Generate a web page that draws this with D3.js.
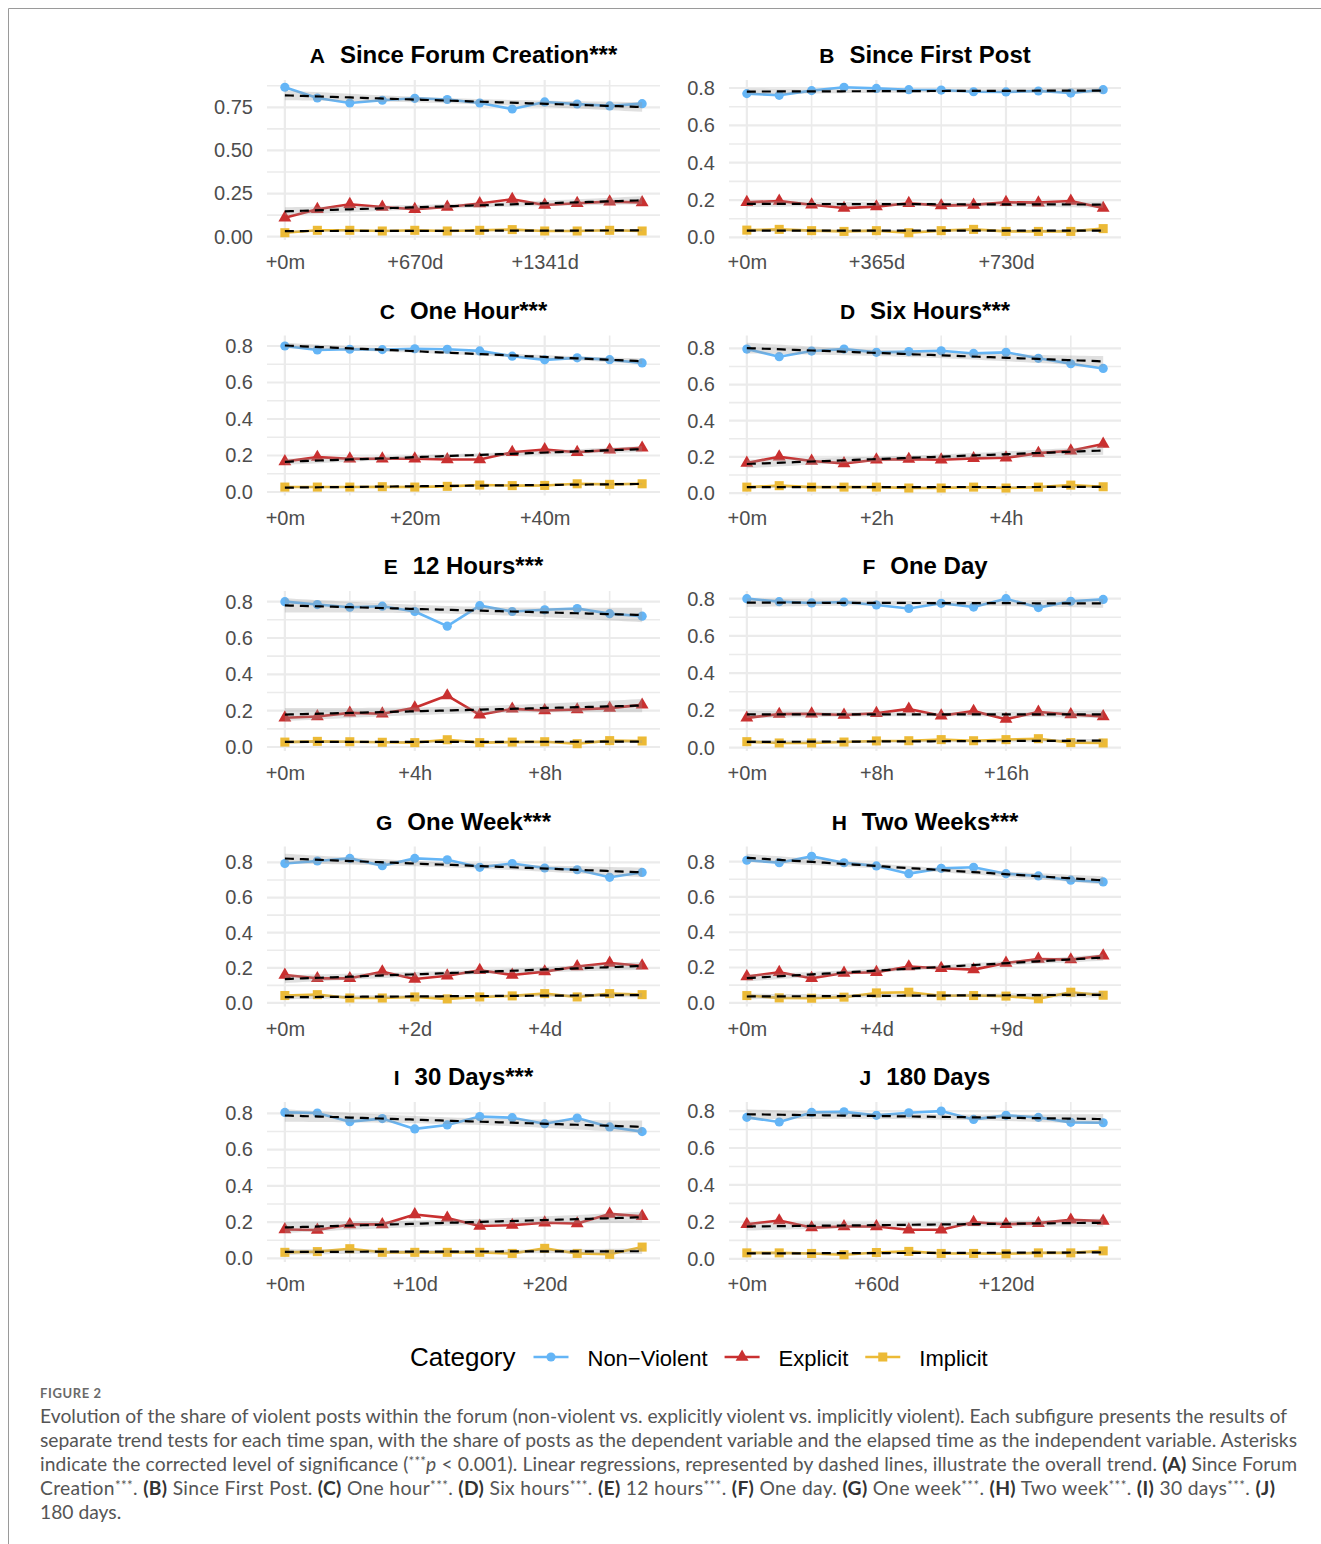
<!DOCTYPE html>
<html>
<head>
<meta charset="utf-8">
<script src="https://cdn.jsdelivr.net/npm/d3@7"></script>
<style>
  body { margin: 0; background: #fff; }
  svg { display: block; }
</style>
</head>
<body>
<svg id="fig" width="1321" height="1544"></svg>
<script>
// ---- data ---------------------------------------------------------------
const panelLetters = ["A", "B", "C", "D", "E", "F", "G", "H", "I", "J"];
const panelTitles = ["Since Forum Creation***", "Since First Post", "One Hour***", "Six Hours***",
  "12 Hours***", "One Day", "One Week***", "Two Weeks***", "30 Days***", "180 Days"];
const xTickLabels = [
  ["+0m", "+670d", "+1341d"], ["+0m", "+365d", "+730d"],
  ["+0m", "+20m", "+40m"], ["+0m", "+2h", "+4h"],
  ["+0m", "+4h", "+8h"], ["+0m", "+8h", "+16h"],
  ["+0m", "+2d", "+4d"], ["+0m", "+4d", "+9d"],
  ["+0m", "+10d", "+20d"], ["+0m", "+60d", "+120d"]
];
const yTickValues = [
  [0, 0.25, 0.5, 0.75],
  [0, 0.2, 0.4, 0.6, 0.8], [0, 0.2, 0.4, 0.6, 0.8], [0, 0.2, 0.4, 0.6, 0.8],
  [0, 0.2, 0.4, 0.6, 0.8], [0, 0.2, 0.4, 0.6, 0.8], [0, 0.2, 0.4, 0.6, 0.8],
  [0, 0.2, 0.4, 0.6, 0.8], [0, 0.2, 0.4, 0.6, 0.8], [0, 0.2, 0.4, 0.6, 0.8]
];
const categories = ["Non\u2212Violent", "Explicit", "Implicit"];

// share of posts per time step (12 steps per panel)
const nonViolent = [
  [0.866, 0.804, 0.775, 0.791, 0.802, 0.795, 0.775, 0.740, 0.781, 0.769, 0.758, 0.771],
  [0.770, 0.761, 0.786, 0.804, 0.798, 0.791, 0.789, 0.780, 0.779, 0.784, 0.773, 0.791],
  [0.800, 0.778, 0.782, 0.780, 0.785, 0.782, 0.773, 0.744, 0.724, 0.735, 0.725, 0.707],
  [0.796, 0.754, 0.785, 0.796, 0.778, 0.782, 0.787, 0.772, 0.778, 0.745, 0.715, 0.689],
  [0.800, 0.784, 0.769, 0.775, 0.746, 0.665, 0.778, 0.746, 0.755, 0.762, 0.734, 0.720],
  [0.800, 0.784, 0.777, 0.782, 0.766, 0.747, 0.775, 0.755, 0.800, 0.752, 0.786, 0.796],
  [0.794, 0.808, 0.823, 0.781, 0.823, 0.815, 0.772, 0.794, 0.768, 0.758, 0.715, 0.743],
  [0.808, 0.794, 0.830, 0.794, 0.776, 0.732, 0.762, 0.768, 0.732, 0.719, 0.695, 0.685],
  [0.805, 0.802, 0.754, 0.771, 0.714, 0.736, 0.782, 0.776, 0.743, 0.774, 0.725, 0.699],
  [0.766, 0.741, 0.793, 0.796, 0.777, 0.791, 0.800, 0.755, 0.777, 0.766, 0.739, 0.737]
];
const explicit = [
  [0.110, 0.159, 0.188, 0.172, 0.159, 0.172, 0.192, 0.217, 0.184, 0.194, 0.203, 0.198],
  [0.188, 0.195, 0.175, 0.157, 0.165, 0.183, 0.170, 0.174, 0.188, 0.186, 0.195, 0.157],
  [0.167, 0.191, 0.182, 0.182, 0.182, 0.178, 0.178, 0.218, 0.233, 0.218, 0.231, 0.242],
  [0.166, 0.201, 0.177, 0.164, 0.184, 0.188, 0.184, 0.192, 0.195, 0.221, 0.234, 0.271],
  [0.161, 0.168, 0.188, 0.183, 0.216, 0.283, 0.177, 0.210, 0.201, 0.206, 0.214, 0.232],
  [0.160, 0.180, 0.182, 0.175, 0.185, 0.208, 0.171, 0.196, 0.153, 0.191, 0.178, 0.167],
  [0.159, 0.140, 0.140, 0.178, 0.136, 0.155, 0.186, 0.159, 0.178, 0.207, 0.227, 0.212],
  [0.149, 0.173, 0.139, 0.169, 0.173, 0.205, 0.196, 0.188, 0.226, 0.248, 0.245, 0.267],
  [0.159, 0.156, 0.187, 0.187, 0.242, 0.223, 0.178, 0.183, 0.196, 0.192, 0.245, 0.232],
  [0.187, 0.207, 0.169, 0.175, 0.175, 0.157, 0.157, 0.198, 0.187, 0.193, 0.211, 0.205]
];
const implicit = [
  [0.023, 0.037, 0.037, 0.033, 0.037, 0.033, 0.037, 0.041, 0.033, 0.033, 0.037, 0.033],
  [0.039, 0.043, 0.036, 0.032, 0.036, 0.025, 0.036, 0.043, 0.032, 0.032, 0.032, 0.047],
  [0.027, 0.027, 0.027, 0.029, 0.027, 0.031, 0.038, 0.035, 0.036, 0.045, 0.042, 0.045],
  [0.033, 0.041, 0.033, 0.033, 0.033, 0.028, 0.028, 0.033, 0.028, 0.033, 0.044, 0.035],
  [0.027, 0.031, 0.029, 0.026, 0.024, 0.040, 0.024, 0.027, 0.029, 0.018, 0.035, 0.033],
  [0.032, 0.025, 0.025, 0.030, 0.036, 0.037, 0.043, 0.037, 0.043, 0.048, 0.027, 0.025],
  [0.042, 0.047, 0.028, 0.028, 0.034, 0.023, 0.034, 0.040, 0.053, 0.034, 0.053, 0.047],
  [0.041, 0.028, 0.026, 0.032, 0.056, 0.060, 0.040, 0.041, 0.038, 0.023, 0.060, 0.043],
  [0.033, 0.037, 0.053, 0.033, 0.033, 0.033, 0.033, 0.027, 0.055, 0.027, 0.022, 0.062],
  [0.032, 0.032, 0.029, 0.022, 0.034, 0.040, 0.029, 0.029, 0.027, 0.032, 0.032, 0.043]
];
const seriesByCategory = [nonViolent, explicit, implicit];

const captionHead = "FIGURE 2";
const captionLines = [
  "Evolution of the share of violent posts within the forum (non-violent vs. explicitly violent vs. implicitly violent). Each subfigure presents the results of",
  "separate trend tests for each time span, with the share of posts as the dependent variable and the elapsed time as the independent variable. Asterisks",
  "indicate the corrected level of significance ([s]***[/s][i]p[/i] < 0.001). Linear regressions, represented by dashed lines, illustrate the overall trend. [b](A)[/b] Since Forum",
  "Creation[s]***[/s]. [b](B)[/b] Since First Post. [b](C)[/b] One hour[s]***[/s]. [b](D)[/b] Six hours[s]***[/s]. [b](E)[/b] 12 hours[s]***[/s]. [b](F)[/b] One day. [b](G)[/b] One week[s]***[/s]. [b](H)[/b] Two week[s]***[/s]. [b](I)[/b] 30 days[s]***[/s]. [b](J)[/b]",
  "180 days."
];
// right edge of each justified caption line (last line runs ragged)
const captionLineEnds = [1287, 1297, 1297, 1275, null];

// ---- styling / layout ---------------------------------------------------
const FONT = "'Liberation Sans', Arial, Helvetica, sans-serif";
const colors = ["#64B5F6", "#C93030", "#ECBA36"];
const symbols = [d3.symbolCircle, d3.symbolTriangle, d3.symbolSquare];
const symbolSizes = [66, 72, 82];
const colRange = [[267, 660], [729, 1121]];
const rowTop0 = 80, rowStep = 255.5, panelH = 160;
const gridColor = "#EBEBEB";

const svg = d3.select("#fig");

// outer frame (top and left rule)
svg.append("line").attr("x1", 8.5).attr("x2", 1321).attr("y1", 8.5).attr("y2", 8.5)
  .attr("stroke", "#9a9a9a").attr("stroke-width", 1);
svg.append("line").attr("x1", 8.5).attr("x2", 8.5).attr("y1", 8.5).attr("y2", 1544)
  .attr("stroke", "#9a9a9a").attr("stroke-width", 1);

// ordinary least squares with a 95% confidence band
function linearFit(vals) {
  const n = vals.length;
  const xs = d3.range(n);
  const xbar = d3.mean(xs), ybar = d3.mean(vals);
  let sxx = 0, sxy = 0;
  xs.forEach((x, i) => { sxx += (x - xbar) ** 2; sxy += (x - xbar) * (vals[i] - ybar); });
  const b = sxy / sxx, a = ybar - b * xbar;
  let sse = 0;
  xs.forEach((x, i) => { sse += (vals[i] - (a + b * x)) ** 2; });
  const s = Math.sqrt(sse / (n - 2));
  const t = 2.228; // t(0.975, df = 10)
  const band = d3.range(0, n - 1 + 1e-9, (n - 1) / 60).map(x => {
    const fit = a + b * x;
    const se = s * Math.sqrt(1 / n + (x - xbar) ** 2 / sxx);
    return { x, fit, lo: fit - t * se, hi: fit + t * se };
  });
  return { a, b, band };
}

panelLetters.forEach((letter, p) => {
  const col = p % 2, row = Math.floor(p / 2);
  const [x0, x1] = colRange[col];
  const top = rowTop0 + rowStep * row, bottom = top + panelH;
  const g = svg.append("g");

  const series = seriesByCategory.map(arr => arr[p]);
  const n = series[0].length;
  const fits = series.map(linearFit);

  // x: step index with 5% padding
  const xPad = (n - 1) * 0.05;
  const x = d3.scaleLinear().domain([-xPad, n - 1 + xPad]).range([x0, x1]);

  // y: data + confidence band, with 5% padding
  const all = [];
  series.forEach(s => all.push(...s));
  fits.forEach(f => f.band.forEach(d => { all.push(d.lo, d.hi); }));
  const [ymin, ymax] = d3.extent(all);
  const yPad = (ymax - ymin) * 0.05;
  const y = d3.scaleLinear().domain([ymin - yPad, ymax + yPad]).range([bottom, top]);

  const yt = yTickValues[p];
  const step = yt[1] - yt[0];
  const yMinor = [];
  for (let v = yt[0] - step / 2; v <= y.domain()[1]; v += step) {
    if (v >= y.domain()[0]) yMinor.push(v);
  }
  const xMajor = d3.range(0, n, 4);
  const xMinor = d3.range(2, n, 4);

  // grid
  g.selectAll(".ymin").data(yMinor).join("line")
    .attr("x1", x0).attr("x2", x1).attr("y1", d => y(d)).attr("y2", d => y(d))
    .attr("stroke", gridColor).attr("stroke-width", 1.6);
  g.selectAll(".xmin").data(xMinor).join("line")
    .attr("x1", d => x(d)).attr("x2", d => x(d)).attr("y1", top).attr("y2", bottom)
    .attr("stroke", gridColor).attr("stroke-width", 1.6);
  g.selectAll(".ymaj").data(yt).join("line")
    .attr("x1", x0).attr("x2", x1).attr("y1", d => y(d)).attr("y2", d => y(d))
    .attr("stroke", gridColor).attr("stroke-width", 2.2);
  g.selectAll(".xmaj").data(xMajor).join("line")
    .attr("x1", d => x(d)).attr("x2", d => x(d)).attr("y1", top).attr("y2", bottom)
    .attr("stroke", gridColor).attr("stroke-width", 2.2);

  // axes (two decimals when the tick step needs them)
  const needs2 = Math.abs(step * 10 - Math.round(step * 10)) > 1e-9;
  const fmt = needs2 ? d3.format(".2f") : d3.format(".1f");
  const yAxis = g.append("g").attr("transform", `translate(${x0},0)`)
    .call(d3.axisLeft(y).tickValues(yt).tickSize(0).tickPadding(14).tickFormat(fmt));
  const xAxis = g.append("g").attr("transform", `translate(0,${bottom})`)
    .call(d3.axisBottom(x).tickValues(xMajor).tickSize(0).tickPadding(15)
      .tickFormat((d, i) => xTickLabels[p][i]));
  [yAxis, xAxis].forEach(ax => {
    ax.select(".domain").remove();
    ax.selectAll("text").attr("font-family", FONT).attr("font-size", 20).attr("fill", "#4D4D4D");
  });

  // category lines and markers
  series.forEach((vals, c) => {
    g.append("path").datum(vals)
      .attr("d", d3.line().x((d, i) => x(i)).y(d => y(d)))
      .attr("fill", "none").attr("stroke", colors[c]).attr("stroke-width", 2.6)
      .attr("stroke-linejoin", "round");
  });
  series.forEach((vals, c) => {
    g.selectAll(null).data(vals).join("path")
      .attr("transform", (d, i) => `translate(${x(i)},${y(d)})`)
      .attr("d", d3.symbol().type(symbols[c]).size(symbolSizes[c]))
      .attr("fill", colors[c]);
  });

  // regression bands and dashed trend lines
  fits.forEach(f => {
    g.append("path").datum(f.band)
      .attr("d", d3.area().x(d => x(d.x)).y0(d => y(d.lo)).y1(d => y(d.hi)))
      .attr("fill", "#999999").attr("fill-opacity", 0.3);
  });
  fits.forEach(f => {
    g.append("path").datum(f.band)
      .attr("d", d3.line().x(d => x(d.x)).y(d => y(d.fit)))
      .attr("fill", "none").attr("stroke", "#000").attr("stroke-width", 2.2)
      .attr("stroke-dasharray", "9,6");
  });

  // panel title with tag letter
  const title = g.append("text")
    .attr("x", (x0 + x1) / 2).attr("y", top - 17)
    .attr("text-anchor", "middle").attr("font-family", FONT).attr("font-weight", "bold")
    .attr("fill", "#000");
  title.append("tspan").attr("font-size", 21).text(letter);
  title.append("tspan").attr("font-size", 24).attr("dx", 15).text(panelTitles[p]);
});

// ---- legend -------------------------------------------------------------
const legend = svg.append("g").attr("font-family", FONT);
const legendBase = 1366;
const lt = legend.append("text").attr("x", 410).attr("y", legendBase)
  .attr("font-size", 26).attr("fill", "#000").text("Category");
let lx = 410 + lt.node().getComputedTextLength() + 18;
categories.forEach((cat, c) => {
  const cy = legendBase - 9;
  legend.append("line").attr("x1", lx).attr("x2", lx + 35).attr("y1", cy).attr("y2", cy)
    .attr("stroke", colors[c]).attr("stroke-width", 2.6);
  legend.append("path").attr("transform", `translate(${lx + 17.5},${cy})`)
    .attr("d", d3.symbol().type(symbols[c]).size(symbolSizes[c])).attr("fill", colors[c]);
  const t = legend.append("text").attr("x", lx + 35 + 19).attr("y", legendBase)
    .attr("font-size", 22).attr("fill", "#000").text(cat);
  lx = lx + 35 + 19 + t.node().getComputedTextLength() + 17;
});

// ---- caption ------------------------------------------------------------
const CAP_FONT = "Lato, 'Open Sans', 'Noto Sans', sans-serif";
svg.append("text").attr("x", 40).attr("y", 1398)
  .attr("font-family", CAP_FONT).attr("font-size", 13).attr("font-weight", "bold")
  .attr("letter-spacing", 0.6).attr("fill", "#6a6a6a").text(captionHead);

const cap = svg.append("g").attr("font-family", CAP_FONT).attr("fill", "#555555")
  .attr("font-size", 17);
const capTexts = captionLines.map((line, li) => {
  const t = cap.append("text").attr("x", 40).attr("y", 1423 + li * 24);
  const parts = line.split(/(\[\/?[bis]\])/);
  let bold = false, ital = false, sup = false, shifted = false;
  parts.forEach(part => {
    if (part === "[b]") { bold = true; return; }
    if (part === "[/b]") { bold = false; return; }
    if (part === "[i]") { ital = true; return; }
    if (part === "[/i]") { ital = false; return; }
    if (part === "[s]") { sup = true; return; }
    if (part === "[/s]") { sup = false; return; }
    if (!part) return;
    const ts = t.append("tspan").text(part);
    if (bold) ts.attr("font-weight", "bold").attr("fill", "#333");
    if (ital) ts.attr("font-style", "italic");
    if (sup) { ts.attr("font-size", "0.7em").attr("dy", -5); shifted = true; }
    else if (shifted) { ts.attr("dy", 5); shifted = false; }
  });
  return t;
});
// size the caption so that a full line spans the text column, then justify
const refWidth = capTexts[1].node().getComputedTextLength();
cap.attr("font-size", 17 * 1257 / refWidth);
capTexts.forEach((t, i) => {
  const end = captionLineEnds[i];
  if (end) t.attr("textLength", end - 40).attr("lengthAdjust", "spacing");
});
</script>
</body>
</html>
